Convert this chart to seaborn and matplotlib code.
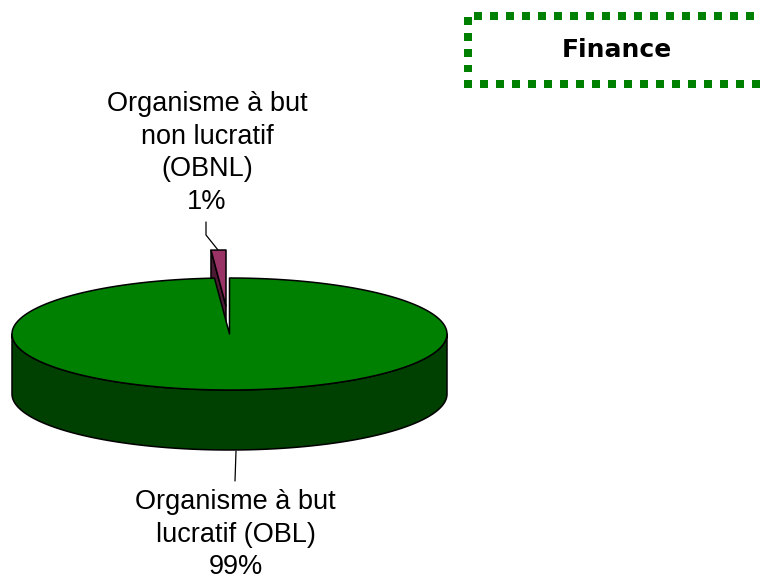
import numpy as np
import matplotlib
matplotlib.use("Agg")
import matplotlib.pyplot as plt
import seaborn as sns

# values
labels = ["Organisme à but\nlucratif (OBL)\n99%", "Organisme à but\nnon lucratif\n(OBNL)\n1%"]
shares = [98.9, 1.1]
top_colors = ["#008000", "#993366"]
side_colors = ["#004000", "#4d1a33"]
title = "Finance"

sns.set_theme(style="white")
plt.rcParams["font.family"] = ["Liberation Sans", "DejaVu Sans"]

# pie geometry in pixels
cx, cy = 229.5, 334
rx, ry = 217.5, 56
depth = 60
ox, oy = -3.5, -28  # pull-out of the small slice


def rim(a0, a1, dx=0, dy=0):
    # angles in degrees, clockwise from 12 o'clock
    t = np.radians(np.linspace(a0, a1, 300))
    return cx + dx + rx * np.sin(t), cy + dy - ry * np.cos(t)


def draw_face(ax, x, y, color):
    ax.fill(x, y, facecolor=color, edgecolor="black", lw=1.1, joinstyle="round")


fig = plt.figure(figsize=(7.6, 5.78), dpi=100)
ax = fig.add_axes([0, 0, 1, 1])
ax.set_xlim(0, 760)
ax.set_ylim(578, 0)
ax.axis("off")

big_end = 360 * shares[0] / sum(shares)

# small slice first, the big one covers it
ex, ey = rim(big_end, 360, ox, oy)
draw_face(ax, [cx + ox, ex[0], ex[0], cx + ox], [cy + oy, ey[0], ey[0] + depth, cy + oy + depth], side_colors[1])
draw_face(ax, np.r_[cx + ox, ex], np.r_[cy + oy, ey], top_colors[1])

# big slice wall and top
wx, wy = rim(90, 270)
draw_face(ax, np.r_[wx, wx[::-1]], np.r_[wy, wy[::-1] + depth], side_colors[0])
gx, gy = rim(0, big_end)
draw_face(ax, np.r_[cx, gx], np.r_[cy, gy], top_colors[0])

# leader lines
ax.plot([206, 206, 218], [222, 235, 250], color="black", lw=0.9)
ax.plot([236, 235], [451, 481], color="black", lw=0.9)

ax.text(235.5, 534.5, labels[0], ha="center", va="center", fontsize=19.5, linespacing=1.335, color="black")
ax.text(207, 153, labels[1], ha="center", va="center", fontsize=19.5, linespacing=1.335, color="black")

# dotted box, open on the right
for xs, ys in [([474, 758], [16, 16]), ([468, 468], [17, 72]), ([464, 760], [83.5, 83.5])]:
    ax.plot(xs, ys, color="#008000", lw=5.76, linestyle=(0, (1, 1)), dash_capstyle="butt")

ax.text(617, 50, title, ha="center", va="center", fontsize=18, fontweight="bold",
        family=["DejaVu Sans"], color="black")

fig.savefig("out.png", dpi=100)
